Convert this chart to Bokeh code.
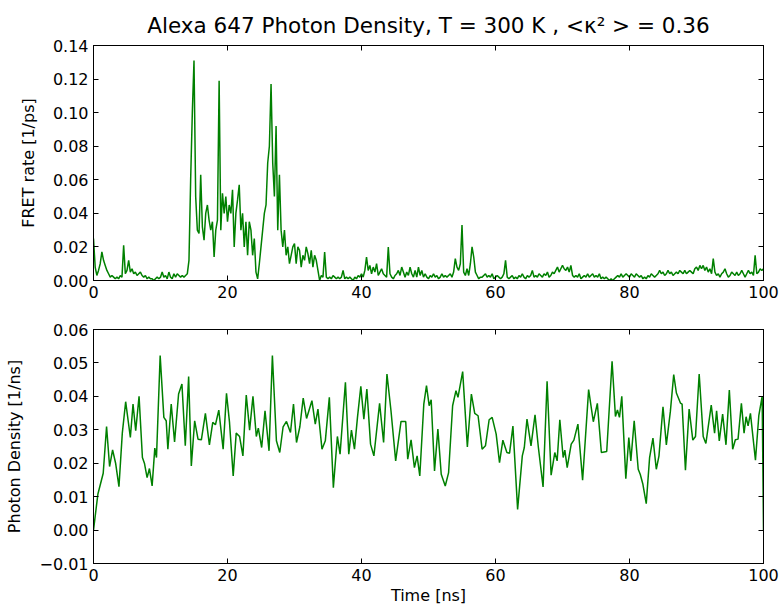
from bokeh.plotting import figure
from bokeh.layouts import column
from bokeh.models import LinearAxis, FixedTicker, CustomJSTickFormatter, Range1d
from bokeh.embed import file_html
from bokeh.resources import INLINE

TITLE = "Alexa 647 Photon Density, T = 300 K , <\u03ba\u00b2 > = 0.36"
X_LABEL = "Time [ns]"
TOP_Y_LABEL = "FRET rate [1/ps]"
BOTTOM_Y_LABEL = "Photon Density [1/ns]"

x_ticks = [0, 20, 40, 60, 80, 100]
top_y_ticks = [0.00, 0.02, 0.04, 0.06, 0.08, 0.10, 0.12, 0.14]
bottom_y_ticks = [-0.01, 0.00, 0.01, 0.02, 0.03, 0.04, 0.05, 0.06]

# FRET rate sampled every 0.25 ns (4 values per ns)
fret_rate = [
    0.025, 0.008, 0.003, 0.006,   # 0
    0.010, 0.017, 0.012, 0.009,   # 1
    0.006, 0.004, 0.002, 0.003,   # 2
    0.002, 0.001, 0.002, 0.001,   # 3
    0.003, 0.002, 0.021, 0.004,   # 4
    0.006, 0.012, 0.005, 0.007,   # 5
    0.004, 0.005, 0.003, 0.004,   # 6
    0.005, 0.003, 0.002, 0.003,   # 7
    0.001, 0.002, 0.001, 0.001,   # 8
    0.000, 0.001, 0.002, 0.001,   # 9
    0.002, 0.005, 0.002, 0.003,   # 10
    0.001, 0.005, 0.002, 0.001,   # 11
    0.004, 0.002, 0.004, 0.003,   # 12
    0.002, 0.003, 0.002, 0.003,   # 13
    0.004, 0.012, 0.060, 0.100,   # 14
    0.131, 0.050, 0.030, 0.028,   # 15
    0.063, 0.032, 0.024, 0.040,   # 16
    0.045, 0.036, 0.030, 0.035,   # 17
    0.014, 0.030, 0.036, 0.119,   # 18
    0.030, 0.052, 0.040, 0.050,   # 19
    0.035, 0.045, 0.040, 0.054,   # 20
    0.020, 0.040, 0.048, 0.057,   # 21
    0.030, 0.040, 0.020, 0.035,   # 22
    0.015, 0.035, 0.030, 0.015,   # 23
    0.025, 0.005, 0.001, 0.010,   # 24
    0.020, 0.030, 0.040, 0.045,   # 25
    0.070, 0.080, 0.117, 0.070,   # 26
    0.050, 0.092, 0.030, 0.063,   # 27
    0.030, 0.020, 0.030, 0.015,   # 28
    0.020, 0.010, 0.015, 0.020,   # 29
    0.022, 0.010, 0.020, 0.018,   # 30
    0.008, 0.015, 0.012, 0.020,   # 31
    0.016, 0.010, 0.018, 0.008,   # 32
    0.015, 0.012, 0.006, 0.000,   # 33
    0.003, 0.002, 0.017, 0.002,   # 34
    0.001, 0.002, 0.001, 0.003,   # 35
    0.002, 0.001, 0.002, 0.001,   # 36
    0.002, 0.006, 0.001, 0.002,   # 37
    0.001, 0.002, 0.001, 0.000,   # 38
    0.002, 0.001, 0.003, 0.002,   # 39
    0.004, 0.002, 0.006, 0.014,   # 40
    0.006, 0.009, 0.004, 0.008,   # 41
    0.005, 0.010, 0.003, 0.005,   # 42
    0.007, 0.004, 0.003, 0.002,   # 43
    0.020, 0.004, 0.002, 0.001,   # 44
    0.003, 0.004, 0.006, 0.003,   # 45
    0.008, 0.005, 0.002, 0.005,   # 46
    0.003, 0.008, 0.004, 0.002,   # 47
    0.006, 0.002, 0.008, 0.003,   # 48
    0.006, 0.002, 0.004, 0.002,   # 49
    0.001, 0.003, 0.002, 0.004,   # 50
    0.002, 0.003, 0.001, 0.002,   # 51
    0.004, 0.002, 0.003, 0.002,   # 52
    0.003, 0.004, 0.002, 0.005,   # 53
    0.013, 0.008, 0.006, 0.010,   # 54
    0.033, 0.005, 0.003, 0.007,   # 55
    0.003, 0.010, 0.020, 0.014,   # 56
    0.005, 0.003, 0.001, 0.002,   # 57
    0.002, 0.003, 0.004, 0.002,   # 58
    0.003, 0.002, 0.004, 0.001,   # 59
    0.002, 0.003, 0.002, 0.001,   # 60
    0.002, 0.004, 0.012, 0.002,   # 61
    0.001, 0.002, 0.003, 0.001,   # 62
    0.002, 0.001, 0.003, 0.002,   # 63
    0.004, 0.002, 0.001, 0.003,   # 64
    0.002, 0.003, 0.006, 0.002,   # 65
    0.003, 0.002, 0.004, 0.003,   # 66
    0.002, 0.004, 0.003, 0.005,   # 67
    0.002, 0.003, 0.005, 0.004,   # 68
    0.006, 0.008, 0.005, 0.007,   # 69
    0.009, 0.007, 0.006, 0.008,   # 70
    0.005, 0.009, 0.003, 0.002,   # 71
    0.003, 0.002, 0.004, 0.001,   # 72
    0.002, 0.003, 0.002, 0.004,   # 73
    0.002, 0.003, 0.004, 0.002,   # 74
    0.003, 0.002, 0.004, 0.001,   # 75
    0.002, 0.001, 0.002, 0.001,   # 76
    0.000, 0.001, 0.000, 0.001,   # 77
    0.002, 0.003, 0.002, 0.004,   # 78
    0.002, 0.003, 0.004, 0.003,   # 79
    0.002, 0.004, 0.003, 0.002,   # 80
    0.004, 0.003, 0.002, 0.003,   # 81
    0.001, 0.002, 0.001, 0.003,   # 82
    0.002, 0.004, 0.003, 0.002,   # 83
    0.003, 0.004, 0.006, 0.004,   # 84
    0.005, 0.003, 0.004, 0.006,   # 85
    0.004, 0.005, 0.003, 0.004,   # 86
    0.005, 0.004, 0.006, 0.005,   # 87
    0.004, 0.006, 0.004, 0.005,   # 88
    0.006, 0.005, 0.004, 0.007,   # 89
    0.008, 0.006, 0.009, 0.007,   # 90
    0.009, 0.006, 0.008, 0.005,   # 91
    0.007, 0.004, 0.013, 0.005,   # 92
    0.003, 0.004, 0.002, 0.004,   # 93
    0.005, 0.007, 0.004, 0.002,   # 94
    0.003, 0.005, 0.004, 0.003,   # 95
    0.005, 0.003, 0.004, 0.006,   # 96
    0.004, 0.002, 0.004, 0.006,   # 97
    0.004, 0.005, 0.003, 0.015,   # 98
    0.004, 0.005, 0.007, 0.006,   # 99
    0.007,                        # 100
]
fret_time = [i * 0.25 for i in range(len(fret_rate))]

photon_time = [
    0, 0.65, 1.45, 1.95, 2.4, 2.85, 3.3, 3.8, 4.3, 4.8,
    5.5, 5.9, 6.3, 6.8, 7.3, 7.6, 8.0, 8.35, 8.75, 9.15,
    9.4, 9.95, 10.5, 10.85, 11.1, 11.6, 12.1, 12.7, 13.2, 13.7,
    14.2, 14.6, 15.1, 15.6, 16.1, 16.7, 17.3, 17.8, 18.2, 18.7,
    19.35, 19.85, 20.3, 20.85, 21.3, 21.8, 22.3, 22.8, 23.3, 23.8,
    24.3, 24.6, 25.1, 25.6, 26.2, 26.7, 27.3, 27.8, 28.3, 28.8,
    29.4, 29.85, 30.3, 30.8, 31.3, 31.8, 32.6, 33.1, 33.5, 34.1,
    34.6, 35.2, 35.8, 36.4, 36.8, 37.6, 38.1, 38.5, 38.95, 39.4,
    39.9, 40.35, 40.8, 41.35, 41.85, 42.7, 43.3, 43.8, 44.4, 45.1,
    45.9, 46.6, 46.9, 47.4, 47.9, 48.3, 48.7, 49.3, 49.7, 50.1,
    50.4, 50.9, 51.4, 51.9, 52.5, 53.0, 53.6, 54.1, 54.4, 55.1,
    55.8, 56.4, 56.9, 57.4, 58.0, 58.5, 59.05, 59.5, 60.1, 60.6,
    61.1, 61.7, 62.1, 62.6, 63.3, 64.0, 64.3, 64.7, 65.3, 65.9,
    66.4, 67.1, 67.7, 68.3, 68.85, 69.2, 69.6, 70.1, 70.35, 70.7,
    71.3, 71.7, 72.3, 73.0, 73.9, 74.6, 75.2, 75.8, 76.6, 77.4,
    77.9, 78.2, 78.5, 78.85, 79.45, 79.9, 80.2, 80.7, 81.3, 81.6,
    82.0, 82.5, 83.0, 83.5, 84.0, 84.4, 85.0, 85.5, 86.1, 86.6,
    87.0, 87.6, 87.85, 88.35, 88.9, 89.45, 89.85, 90.4, 91.0, 91.4,
    92.2, 92.7, 93.0, 93.4, 93.9, 94.4, 94.9, 95.4, 95.8, 96.2,
    96.7, 97.1, 97.4, 97.7, 98.05, 98.8, 99.3, 99.8, 100.0,
]
photon_density = [
    0.000, 0.0107, 0.017, 0.031, 0.019, 0.024, 0.020, 0.013, 0.029, 0.0384,
    0.0277, 0.0377, 0.0297, 0.040, 0.0217, 0.020, 0.0157, 0.0184, 0.0132, 0.0245,
    0.0217, 0.0522, 0.0337, 0.0327, 0.0242, 0.0377, 0.0264, 0.0407, 0.0437, 0.0252,
    0.0459, 0.0192, 0.0327, 0.0272, 0.027, 0.0349, 0.0255, 0.0322, 0.0315, 0.0359,
    0.0242, 0.0409, 0.0322, 0.0162, 0.029, 0.028, 0.0222, 0.0404, 0.0299, 0.040,
    0.028, 0.0305, 0.0247, 0.0357, 0.0237, 0.0522, 0.0267, 0.0232, 0.0309, 0.0325,
    0.0292, 0.0377, 0.0262, 0.0309, 0.0395, 0.0334, 0.0387, 0.0317, 0.0362, 0.0242,
    0.0267, 0.0397, 0.0127, 0.028, 0.0227, 0.0442, 0.0227, 0.0299, 0.0242, 0.0337,
    0.043, 0.0332, 0.0422, 0.0257, 0.0222, 0.0379, 0.0262, 0.0467, 0.0357, 0.0207,
    0.0325, 0.0325, 0.0212, 0.027, 0.0187, 0.0222, 0.0162, 0.0377, 0.0432, 0.0372,
    0.039, 0.0177, 0.0302, 0.0167, 0.0132, 0.0172, 0.0372, 0.0417, 0.0397, 0.0474,
    0.0249, 0.0407, 0.0349, 0.0342, 0.0242, 0.0252, 0.033, 0.0337, 0.0287, 0.0202,
    0.0269, 0.0232, 0.023, 0.0311, 0.0062, 0.0222, 0.0247, 0.0332, 0.0252, 0.0345,
    0.0247, 0.0129, 0.0445, 0.0164, 0.0232, 0.0207, 0.033, 0.0217, 0.0239, 0.0187,
    0.0257, 0.0269, 0.0317, 0.0149, 0.042, 0.0324, 0.0379, 0.0232, 0.0235, 0.0505,
    0.034, 0.0359, 0.0337, 0.040, 0.0154, 0.0277, 0.0207, 0.0327, 0.0182, 0.0167,
    0.0137, 0.0079, 0.0217, 0.0275, 0.0182, 0.0222, 0.0369, 0.0255, 0.0355, 0.0465,
    0.041, 0.038, 0.0377, 0.0179, 0.0362, 0.0269, 0.028, 0.0467, 0.028, 0.0259,
    0.0374, 0.029, 0.0357, 0.0267, 0.0347, 0.0255, 0.0419, 0.0242, 0.027, 0.0272,
    0.0379, 0.029, 0.0339, 0.0312, 0.0349, 0.0209, 0.0342, 0.040, 0.000,
]

LINE_COLOR = "#008000"
FONT = "DejaVu Sans"
TICK_FS = "16px"
LABEL_FS = "16px"
W = 780

fmt2 = CustomJSTickFormatter(code="return tick.toFixed(2).replace('-', '\u2212');")
blank_fmt = CustomJSTickFormatter(code="return '';")


def style_axis(ax, ticks, show_labels=True, fmt=None):
    ax.ticker = FixedTicker(ticks=ticks)
    ax.major_tick_in = 5
    ax.major_tick_out = 0
    ax.minor_tick_line_color = None
    ax.axis_line_color = "black"
    ax.major_tick_line_color = "black"
    ax.major_label_text_font = FONT
    ax.major_label_text_color = "black"
    ax.axis_label_text_font = FONT
    ax.axis_label_text_font_size = LABEL_FS
    ax.axis_label_text_font_style = "normal"
    ax.axis_label_text_color = "black"
    if fmt is not None:
        ax.formatter = fmt
    if show_labels:
        ax.major_label_text_font_size = TICK_FS
        ax.major_label_standoff = 5
    else:
        ax.formatter = blank_fmt
        ax.major_label_text_font_size = "1px"
        ax.major_label_standoff = 0


def make_fig(height, y_lo, y_hi, y_ticks, ylabel, min_top, min_bottom, title=None):
    p = figure(width=W, height=height, x_range=Range1d(0, 100), y_range=Range1d(y_lo, y_hi),
               output_backend="svg", toolbar_location=None,
               min_border_left=93, min_border_right=17,
               min_border_top=min_top, min_border_bottom=min_bottom,
               title=title)
    p.xgrid.visible = False
    p.ygrid.visible = False
    p.outline_line_color = "black"
    p.outline_line_width = 1
    p.background_fill_color = "white"
    p.border_fill_color = "white"
    bottom_ax = p.below[0]
    left_ax = p.left[0]
    style_axis(bottom_ax, x_ticks)
    style_axis(left_ax, y_ticks, fmt=fmt2)
    left_ax.axis_label = ylabel
    left_ax.axis_label_standoff = 12
    top_ax = LinearAxis()
    style_axis(top_ax, x_ticks, show_labels=False)
    p.add_layout(top_ax, "above")
    right_ax = LinearAxis()
    style_axis(right_ax, y_ticks, show_labels=False)
    p.add_layout(right_ax, "right")
    return p, bottom_ax


p1, _ = make_fig(305, 0, 0.14, top_y_ticks, TOP_Y_LABEL, 45, 25, title=TITLE)
p1.title.text_font = FONT
p1.title.text_font_size = "21.5px"
p1.title.text_font_style = "normal"
p1.title.text_color = "black"
p1.title.align = "center"
p1.title.standoff = 16
p1.line(fret_time, fret_rate, line_color=LINE_COLOR, line_width=1.5)

p2, p2_bottom = make_fig(302, -0.01, 0.06, bottom_y_ticks, BOTTOM_Y_LABEL, 24, 43)
p2_bottom.axis_label = X_LABEL
p2_bottom.axis_label_standoff = 2
p2.line(photon_time, photon_density, line_color=LINE_COLOR, line_width=1.5)

layout = column(p1, p2, spacing=0)
open("out.html", "w").write(file_html(layout, INLINE))
